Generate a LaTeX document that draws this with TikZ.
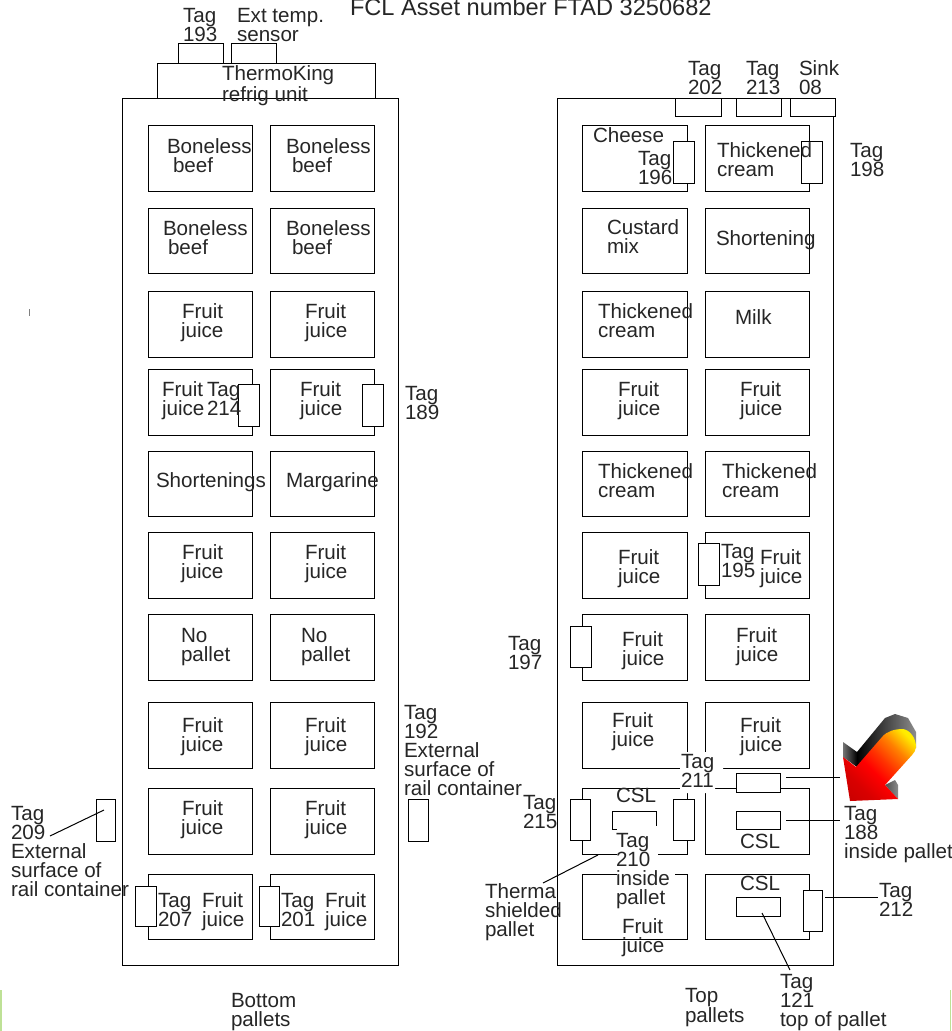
\documentclass[tikz,border=0pt]{standalone}
\usepackage{fontspec}
\setmainfont{Liberation Sans}
\usetikzlibrary{fit}
\definecolor{edgegreen}{RGB}{190,225,150}
\pgfdeclarehorizontalshading{arrowface}{100bp}{color(0bp)=(red!70!black); color(30bp)=(red!85!black); color(44bp)=(red); color(54bp)=(orange!40!red); color(66bp)=(orange); color(78bp)=(yellow!85!orange); color(100bp)=(yellow)}
\tikzset{
  box/.style={draw=black,line width=1pt,inner sep=0pt,outer sep=0pt,fill=white},
  tagbox/.style={box},
  lbl/.style={anchor=north west,inner sep=0pt,outer sep=0pt,align=left,yshift=-1pt,font=\fontsize{20.6}{19}\selectfont,text=black!85},
  wire/.style={draw=black,line width=1pt},
  mask/.style={fill=white,draw=none},
}
\begin{document}
\begin{tikzpicture}[x=1pt,y=-1pt]
\useasboundingbox (0,0) rectangle (951,1031);
\clip (0,0) rectangle (951,1031);
\fill[white] (0,0) rectangle (951,1031);
% edges of the page
\fill[edgegreen] (0,990) rectangle (1.5,1031);
\fill[edgegreen] (949.5,990) rectangle (951,1031);
\fill[gray] (28.5,309) rectangle (30,316);
% containers
\node[box,fit={(157,63)(375,98)}] (unit) {};
\node[tagbox,fit={(178,43)(223,63)}] (t193) {};
\node[tagbox,fit={(231,43)(276,63)}] (text) {};
\node[box,fit={(122,98)(398,965)}] (left) {};
\node[box,fit={(557,98)(833,965)}] (right) {};
\node[tagbox,fit={(675,98)(721,116)}] (t202) {};
\node[tagbox,fit={(736,98)(781,116)}] (t213) {};
\node[tagbox,fit={(790,98)(835,116)}] (s08) {};
% pallets
\foreach \n/\a/\b in {1/125/191,2/208/273,3/291/357,4/369/435,5/451/516,6/532/598,7/614/680,8/702/768,9/788/854,10/874/939}{
  \node[box,fit={(148,\a)(252,\b)}] (la\n) {};
  \node[box,fit={(270,\a)(374,\b)}] (lb\n) {};
  \node[box,fit={(582,\a)(687,\b)}] (ra\n) {};
  \node[box,fit={(705,\a)(809,\b)}] (rb\n) {};
}
% masks left by the labels over the outlines
\fill[mask] (680,752) -- (723,752) -- (723,775) -- (715,775) -- (715,793) -- (680,793) -- cycle;
% tags
\node[tagbox,fit={(673,141)(694,183)}] (t196) {};
\node[tagbox,fit={(801,141)(822,183)}] (t198) {};
\node[tagbox,fit={(238,384)(259,426)}] (t214) {};
\node[tagbox,fit={(362,384)(383,426)}] (t189) {};
\node[tagbox,fit={(698,543)(719,585)}] (t195) {};
\node[tagbox,fit={(570,626)(591,667)}] (t197) {};
\node[tagbox,fit={(408,799)(428,841)}] (t192) {};
\node[tagbox,fit={(96,799)(115,841)}] (t209) {};
\node[tagbox,fit={(135,886)(156,926)}] (t207) {};
\node[tagbox,fit={(259,886)(279,926)}] (t201) {};
\node[tagbox,fit={(570,799)(590,840)}] (t215) {};
\node[tagbox,fit={(673,799)(694,840)}] (t216) {};
\node[tagbox,fit={(736,773)(780,792)}] (t211) {};
\node[tagbox,fit={(736,811)(780,829)}] (t188) {};
\node[tagbox,fit={(736,897)(780,916)}] (t121) {};
\node[tagbox,fit={(803,890)(822,931)}] (t212) {};
\node[tagbox,fit={(612,811)(656,829)}] (t210) {};
% masks for the Tag 210 label
\fill[mask] (617,826) rectangle (658,860);
\fill[mask] (617,868) rectangle (675,900);
% connectors
\coordinate (c209a) at (50,836);
\coordinate (c209b) at (104,810);
\coordinate (c211) at (840,777);
\coordinate (c188) at (840,820);
\coordinate (c212) at (878,897);
\coordinate (c121) at (790,970);
\coordinate (c121b) at (762,913);
\coordinate (ctha) at (543,883);
\coordinate (cthb) at (598,855);
\draw[wire] (c209a) -- (c209b);
\draw[wire] ([xshift=6pt]t211.east |- c211) -- (c211);
\draw[wire] ([xshift=6pt]t188.east) -- (c188);
\draw[wire] ([xshift=3pt]t212.east |- c212) -- (c212);
\draw[wire] (c121b) -- (c121);
\draw[wire] (ctha) -- (cthb);
% arrow
\shade[left color=black!55,right color=black] (843,742) -- (857,752) -- (857,767) -- (843,757) -- cycle;
\shade[left color=black,right color=black!45] (857,752) -- (885,718) -- (895,714) -- (908,718) -- (916,732) -- (916,748) -- (890,760) -- (857,767) -- cycle;
\shade[left color=black!70,right color=black!45] (885,785) -- (895,780) -- (898,785) -- (898,799) -- cycle;
\shade[shading=arrowface,shading angle=45]
 (843,757) -- (856,767) -- (882,737) .. controls (887,731) and (895,729) .. (903,729) .. controls (910,730) and (916,738) .. (916,747) .. controls (916,750) and (914,753) .. (912,755) -- (885,785) -- (898,799) -- (850,801) -- cycle;
% labels
\node[lbl,font=\fontsize{23.6}{19}\selectfont] (title) at (350,-2.5) {FCL Asset number FTAD 3250682};
\node[lbl] (l193) at (183,7) {Tag\\193};
\node[lbl] (lext) at (237,7) {Ext temp.\\sensor};
\node[lbl] (lunit) at (222,65) {ThermoKing\\refrig unit};
\node[lbl] (p1) at (167,138) {Boneless\\\hspace*{6pt}beef};
\node[lbl] (p2) at (286,138) {Boneless\\\hspace*{6pt}beef};
\node[lbl] (p3) at (163,220) {Boneless\\\hspace*{5pt}beef};
\node[lbl] (p4) at (286,220) {Boneless\\\hspace*{6pt}beef};
\node[lbl] (p5) at (181,303) {\hspace*{1pt}Fruit\\juice};
\node[lbl] (p6) at (305,303) {Fruit\\juice};
\node[lbl] (p7) at (162,381) {Fruit\\juice};
\node[lbl] (l214) at (207,381) {Tag\\214};
\node[lbl] (p8) at (300,381) {Fruit\\juice};
\node[lbl] (l189) at (405,385) {Tag\\189};
\node[lbl] (p9) at (156,472) {Shortenings};
\node[lbl] (p10) at (286,472) {Margarine};
\node[lbl] (p11) at (181,544) {\hspace*{1pt}Fruit\\juice};
\node[lbl] (p12) at (305,544) {Fruit\\juice};
\node[lbl] (p13) at (181,627) {No\\pallet};
\node[lbl] (p14) at (301,627) {No\\pallet};
\node[lbl] (p15) at (181,717) {\hspace*{1pt}Fruit\\juice};
\node[lbl] (p16) at (305,717) {Fruit\\juice};
\node[lbl] (p17) at (181,800) {\hspace*{1pt}Fruit\\juice};
\node[lbl] (p18) at (305,800) {Fruit\\juice};
\node[lbl] (l207) at (158,892) {Tag\\207};
\node[lbl] (p19) at (202,892) {Fruit\\juice};
\node[lbl] (l201) at (281,892) {Tag\\201};
\node[lbl] (p20) at (325,892) {Fruit\\juice};
\node[lbl] (l192) at (404,704) {Tag\\192\\External\\surface of\\rail container};
\node[lbl] (l209) at (11,805) {Tag\\209\\External\\surface of\\rail container};
\node[lbl] (lbot) at (231,992) {Bottom\\pallets};
\node[lbl] (l202) at (688,60) {Tag\\202};
\node[lbl] (l213) at (746,60) {Tag\\213};
\node[lbl] (l08) at (799,60) {Sink\\08};
\node[lbl] (l198) at (850,142) {Tag\\198};
\node[lbl] (q1) at (593,127) {Cheese};
\node[lbl] (l196) at (638,150) {Tag\\196};
\node[lbl] (q2) at (717,142) {Thickened\\cream};
\node[lbl] (q3) at (607,219) {Custard\\mix};
\node[lbl] (q4) at (716,230) {Shortening};
\node[lbl] (q5) at (598,303) {Thickened\\cream};
\node[lbl] (q6) at (735,309) {Milk};
\node[lbl] (q7) at (618,381) {Fruit\\juice};
\node[lbl] (q8) at (740,381) {Fruit\\juice};
\node[lbl] (q9) at (598,463) {Thickened\\cream};
\node[lbl] (q10) at (722,463) {Thickened\\cream};
\node[lbl] (q11) at (618,549) {Fruit\\juice};
\node[lbl] (l195) at (721,543) {Tag\\195};
\node[lbl] (q12) at (760,549) {Fruit\\juice};
\node[lbl] (l197) at (508,635) {Tag\\197};
\node[lbl] (q13) at (622,631) {Fruit\\juice};
\node[lbl] (q14) at (736,627) {Fruit\\juice};
\node[lbl] (q15) at (612,712) {Fruit\\juice};
\node[lbl] (q16) at (740,717) {Fruit\\juice};
\node[lbl] (l211) at (681,753) {Tag\\211};
\node[lbl] (c1) at (616,787) {CSL};
\node[lbl] (l215) at (523,794) {Tag\\215};
\node[lbl] (l210) at (616,832) {Tag\\210\\inside\\pallet};
\node[lbl] (q17) at (622,918) {Fruit\\juice};
\node[lbl] (c2) at (740,833) {CSL};
\node[lbl] (c3) at (740,875) {CSL};
\node[lbl] (l188) at (844,805) {Tag\\188\\inside pallet};
\node[lbl] (l212) at (879,882) {Tag\\212};
\node[lbl] (l121) at (780,973) {Tag\\121\\top of pallet};
\node[lbl] (lth) at (485,883) {Therma\\shielded\\pallet};
\node[lbl] (ltop) at (685,987) {Top\\pallets};
\end{tikzpicture}
\end{document}
